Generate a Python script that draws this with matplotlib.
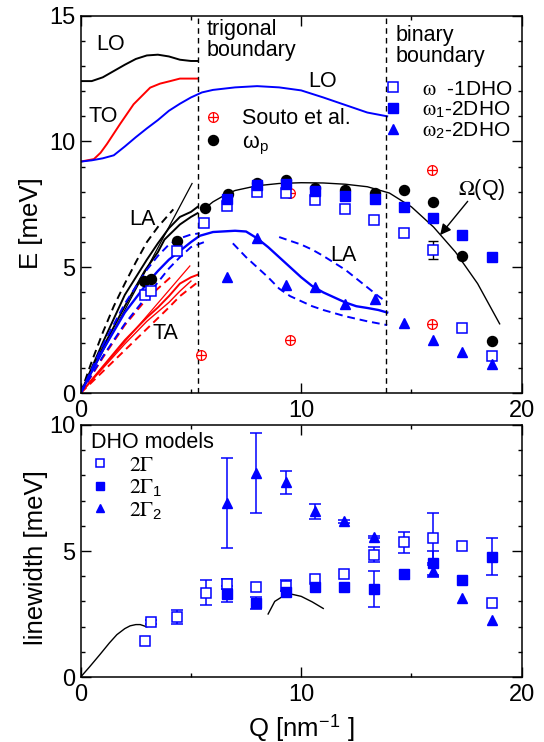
import numpy as np
import matplotlib
matplotlib.use("Agg")
import matplotlib.pyplot as plt
from matplotlib.ticker import MultipleLocator
from matplotlib.legend_handler import HandlerTuple

plt.rcParams['font.family'] = ['Liberation Sans', 'DejaVu Sans']
plt.rcParams['mathtext.fontset'] = 'stix'

BLUE = '#0000ff'
RED = '#ff0000'

# ---------------- top panel: dispersion ----------------
q_lo_k = [0, 0.5, 1, 1.5, 2, 2.5, 3, 3.5, 4, 4.5, 5, 5.3]
e_lo_k = [12.4, 12.4, 12.55, 12.8, 13.05, 13.28, 13.42, 13.45, 13.38, 13.25, 13.2, 13.2]

q_to_r = [0, 0.6, 0.9, 1.19, 1.79, 2.4, 3.15, 3.6, 4.06, 4.5, 5.0, 5.3]
e_to_r = [9.2, 9.3, 9.55, 9.9, 10.7, 11.48, 12.14, 12.3, 12.4, 12.5, 12.5, 12.5]

q_lo_b = [0, 0.5, 1, 1.5, 2, 2.5, 3, 3.5, 4, 4.5, 5, 5.5, 6, 7, 8, 9, 10, 11, 12, 13, 13.9]
e_lo_b = [9.2, 9.25, 9.33, 9.45, 9.8, 10.17, 10.52, 10.85, 11.22, 11.5, 11.75, 11.95, 12.05,
          12.15, 12.2, 12.15, 12.03, 11.75, 11.45, 11.15, 11.0]

# acoustic branches
q_la_kd = [0, 0.5, 1, 1.5, 2, 2.5, 3, 3.5, 4, 4.2]
e_la_kd = [0, 1.25, 2.4, 3.45, 4.35, 5.2, 6.0, 6.6, 7.1, 7.3]
q_la_kt = [0, 5.05]
e_la_kt = [0, 8.33]
q_la_k1 = [0, 1, 2, 3, 3.5, 4, 4.5, 5, 5.3]
e_la_k1 = [0, 2.0, 3.9, 5.3, 5.95, 6.55, 7.0, 7.2, 7.4]
q_la_k2 = [0, 1, 2, 2.9, 3.5, 3.8, 4.5, 5, 5.3]
e_la_k2 = [0, 1.8, 3.45, 4.85, 5.6, 6.1, 6.7, 7.0, 7.15]

q_la_b = [0, 1, 2, 3, 3.5, 4, 4.5, 5, 5.4, 6, 7, 7.5, 8, 8.5, 9, 9.5, 10, 10.5, 11, 12,
          12.5, 13, 13.5, 13.9]
e_la_b = [0, 1.7, 3.2, 4.35, 4.85, 5.3, 5.65, 6.0, 6.25, 6.4, 6.45, 6.42, 6.15, 5.8, 5.4,
          5.0, 4.6, 4.25, 4.0, 3.6, 3.45, 3.38, 3.3, 3.2]
q_la_bdu1 = [0, 1, 2, 3, 3.5, 4, 4.5, 5, 5.4]
e_la_bdu1 = [0, 1.9, 3.55, 4.9, 5.45, 5.9, 6.15, 6.3, 6.35]
q_la_bdl1 = [0, 1, 2, 3, 3.5, 4, 4.5, 5, 5.6]
e_la_bdl1 = [0, 1.45, 2.75, 3.85, 4.4, 4.95, 5.4, 5.8, 6.0]
q_la_bdu2 = [9.0, 10, 10.5, 11, 12, 13, 13.5, 13.9]
e_la_bdu2 = [6.2, 5.9, 5.7, 5.45, 4.9, 4.2, 3.85, 3.6]
q_la_bdl2 = [6.9, 7.5, 8, 8.5, 9, 9.5, 10, 10.5, 11, 12, 13, 13.9]
e_la_bdl2 = [5.95, 5.4, 5.0, 4.6, 4.15, 3.85, 3.65, 3.45, 3.3, 3.05, 2.85, 2.7]

q_ta_r1 = [0, 1, 2, 3, 3.5, 4, 4.5, 5, 5.3]
e_ta_r1 = [0, 1.05, 2.1, 3.0, 3.4, 3.85, 4.35, 4.6, 4.7]
q_ta_r2 = [0, 1, 2, 3, 4, 4.5, 5]
e_ta_r2 = [0, 0.98, 1.95, 2.85, 3.6, 4.05, 4.45]
q_ta_rt = [0, 4.95]
e_ta_rt = [0, 5.05]
q_ta_rdu = [0, 1, 2, 3, 3.5, 4.2]
e_ta_rdu = [0, 1.4, 2.7, 3.75, 4.15, 4.7]
q_ta_rdl = [0, 1, 2, 3, 4, 4.5, 5.3]
e_ta_rdl = [0, 0.85, 1.7, 2.55, 3.4, 3.85, 4.4]

q_omega = [5.5, 6, 6.6, 7, 8, 9, 10, 11, 12, 13, 14, 15, 16, 17, 18, 19]
e_omega = [7.25, 7.6, 7.9, 8.05, 8.24, 8.33, 8.36, 8.35, 8.3, 8.2, 7.95, 7.4, 6.6, 5.6, 4.35, 2.75]

q_bound = [5.3, 13.85]

# data points
q_souto = [5.45, 9.47, 9.5, 15.92, 15.92]
e_souto = [1.5, 2.09, 7.95, 8.85, 2.73]

q_p = [2.88, 3.21, 4.39, 5.63, 6.67, 7.99, 9.32, 10.63, 12.0, 13.33, 14.64, 15.97, 17.31, 18.65]
e_p = [4.47, 4.54, 6.03, 7.34, 7.91, 8.33, 8.48, 8.15, 8.07, 7.95, 8.07, 7.61, 5.44, 2.05]

q_1dho = [2.91, 3.18, 4.35, 5.6, 6.63, 7.99, 9.32, 10.63, 11.97, 13.31, 14.64, 15.97, 17.31, 18.65]
e_1dho = [3.88, 4.05, 5.66, 6.75, 7.45, 7.98, 7.95, 7.67, 7.32, 6.89, 6.35, 5.69, 2.6, 1.46]
e_1dho_err = [0, 0, 0, 0, 0, 0, 0, 0, 0, 0, 0, 0.37, 0, 0]

q_2dho = [6.63, 7.99, 9.32, 10.63, 12.0, 13.33, 14.64, 15.97, 17.31, 18.65]
e1_2dho = [7.73, 8.28, 8.31, 8.04, 7.84, 7.71, 7.38, 6.96, 6.3, 5.42]
e2_2dho = [4.6, 6.17, 4.29, 4.21, 3.52, 3.75, 2.78, 2.12, 1.63, 1.17]

# ---------------- bottom panel: linewidths ----------------
q_w = [2.92, 3.2, 4.36, 5.69, 6.63, 7.96, 9.3, 10.63, 11.95, 13.31, 14.64, 15.97, 17.31, 18.65]
g_1dho = [1.42, 2.19, 2.39, 3.35, 3.69, 3.59, 3.63, 3.89, 4.09, 4.85, 5.34, 5.51, 5.18, 2.95]
g_1dho_err = [0, 0.08, 0.28, 0.5, 0.2, 0, 0.2, 0, 0, 0.29, 0.42, 1.0, 0, 0]

q_w1 = [6.63, 7.96, 9.3, 10.63, 11.95, 13.31, 14.64, 15.97, 17.31, 18.65]
g1 = [3.29, 2.95, 3.39, 3.59, 3.59, 3.48, 4.09, 4.52, 3.86, 4.78]
g1_err = [0.32, 0.24, 0, 0, 0, 0.71, 0, 0.47, 0, 0.75]

q_w2 = [6.63, 7.96, 9.3, 10.63, 11.95, 13.31, 15.97, 17.31, 18.65]
g2 = [6.91, 8.1, 7.73, 6.57, 6.18, 5.55, 4.2, 3.12, 2.26]
g2_err = [1.78, 1.59, 0.46, 0.3, 0.05, 0.05, 0.25, 0, 0]

q_c1 = [0, 0.4, 0.88, 1.3, 1.64, 2.0, 2.24, 2.5, 2.7, 3.0]
g_c1 = [0, 0.4, 0.9, 1.35, 1.68, 1.92, 2.03, 2.08, 2.08, 1.99]
q_c2 = [8.5, 8.8, 9.2, 9.6, 10.0, 10.5, 11.0]
g_c2 = [2.5, 3.0, 3.22, 3.28, 3.2, 2.98, 2.72]

TXT = 15.5
TICK = 17
LAB = 18.5

fig = plt.figure(figsize=(5.44, 7.42), dpi=100)
W, H = 544.0, 742.0
ax1 = fig.add_axes([80.7 / W, 1 - 393.0 / H, 441.0 / W, 377.3 / H])
ax2 = fig.add_axes([80.7 / W, 1 - 677.0 / H, 441.0 / W, 252.0 / H])

for ax in (ax1, ax2):
    ax.set_xlim(0, 20)
    ax.xaxis.set_major_locator(MultipleLocator(10))
    ax.xaxis.set_minor_locator(MultipleLocator(5))
    ax.yaxis.set_major_locator(MultipleLocator(5))
    ax.yaxis.set_minor_locator(MultipleLocator(1))
    ax.tick_params(which='both', direction='in', top=True, right=True, labelsize=TICK,
                   width=1.0, pad=4)
    ax.tick_params(which='major', length=7)
    ax.tick_params(which='minor', length=3.2)
    for s in ax.spines.values():
        s.set_linewidth(1.1)

ax1.set_ylim(0, 15)
ax2.set_ylim(0, 10)

lw = 1.4
DASH = (0, (4, 2.5))
# optic
ax1.plot(q_lo_k, e_lo_k, color='k', lw=lw)
ax1.plot(q_to_r, e_to_r, color=RED, lw=lw)
ax1.plot(q_lo_b, e_lo_b, color=BLUE, lw=lw)
# acoustic
ax1.plot(q_la_kd, e_la_kd, color='k', lw=lw, ls=DASH)
ax1.plot(q_la_kt, e_la_kt, color='k', lw=0.9)
ax1.plot(q_la_k1, e_la_k1, color='k', lw=lw)
ax1.plot(q_la_k2, e_la_k2, color='k', lw=lw)
ax1.plot(q_ta_r1, e_ta_r1, color=RED, lw=lw)
ax1.plot(q_ta_r2, e_ta_r2, color=RED, lw=1.0)
ax1.plot(q_ta_rt, e_ta_rt, color=RED, lw=0.9)
ax1.plot(q_ta_rdu, e_ta_rdu, color=RED, lw=lw, ls=DASH)
ax1.plot(q_ta_rdl, e_ta_rdl, color=RED, lw=lw, ls=DASH)
ax1.plot(q_la_b, e_la_b, color=BLUE, lw=1.7)
for qq, ee in ((q_la_bdu1, e_la_bdu1), (q_la_bdl1, e_la_bdl1),
               (q_la_bdu2, e_la_bdu2), (q_la_bdl2, e_la_bdl2)):
    ax1.plot(qq, ee, color=BLUE, lw=lw, ls=DASH)
ax1.plot(q_omega, e_omega, color='k', lw=1.0)
for qb in q_bound:
    ax1.axvline(qb, color='k', lw=1.0, ls=(0, (4, 3)))

# points
ms = 7.2
h_s1, = ax1.plot(q_souto, e_souto, 'o', mfc='white', mec=RED, mew=0.9, ms=7, ls='none', zorder=3)
h_s2, = ax1.plot(q_souto, e_souto, '+', color=RED, mew=0.9, ms=7, ls='none', zorder=3)
h_p, = ax1.plot(q_p, e_p, 'o', color='k', ms=ms, ls='none', zorder=4)
h_o, = ax1.plot(q_1dho, e_1dho, 's', mfc='white', mec=BLUE, mew=1.1, ms=ms, ls='none', zorder=5)
e_err = np.array(e_1dho_err)
m = e_err > 0
ax1.errorbar(np.array(q_1dho)[m], np.array(e_1dho)[m], yerr=e_err[m], fmt='none',
             ecolor='k', elinewidth=1.0, capsize=3.5, capthick=1.0, zorder=4)
h_f, = ax1.plot(q_2dho, e1_2dho, 's', color=BLUE, ms=ms, ls='none', zorder=5)
h_t, = ax1.plot(q_2dho, e2_2dho, '^', color=BLUE, ms=ms + 0.6, ls='none', zorder=5)

# texts
ax1.text(1.35, 13.85, 'LO', fontsize=TXT, ha='center', va='center')
ax1.text(1.0, 10.98, 'TO', fontsize=TXT, ha='center', va='center')
ax1.text(10.96, 12.4, 'LO', fontsize=TXT, ha='center', va='center')
ax1.text(2.8, 6.9, 'LA', fontsize=TXT, ha='center', va='center')
ax1.text(3.85, 2.37, 'TA', fontsize=TXT, ha='center', va='center')
ax1.text(11.9, 5.46, 'LA', fontsize=TXT, ha='center', va='center')
ax1.text(5.72, 14.85, 'trigonal\nboundary', fontsize=TXT, ha='left', va='top', linespacing=1.0)
ax1.text(14.3, 14.65, 'binary\nboundary', fontsize=TXT, ha='left', va='top', linespacing=1.0)
ax1.text(18.2, 8.1, r'$\Omega$(Q)', fontsize=TXT, ha='center', va='center')
ax1.annotate('', xy=(16.3, 6.28), xytext=(17.55, 7.62),
             arrowprops=dict(arrowstyle='-|>', color='k', lw=1.0, mutation_scale=16,
                             shrinkA=0, shrinkB=0))

ax1.set_ylabel('E [meV]', fontsize=LAB)
ax1.yaxis.set_label_coords(-0.085, 0.45)
ax1.tick_params(axis='x', pad=5)

# bottom panel
ax2.plot(q_c1, g_c1, color='k', lw=1.0)
ax2.plot(q_c2, g_c2, color='k', lw=1.0)


def err_subset(ax, q, v, err):
    q = np.array(q); v = np.array(v); err = np.array(err)
    m = err > 0
    ax.errorbar(q[m], v[m], yerr=err[m], fmt='none', ecolor=BLUE, elinewidth=1.1,
                capsize=4, capthick=1.1, zorder=3)


err_subset(ax2, q_w2, g2, g2_err)
err_subset(ax2, q_w1, g1, g1_err)
err_subset(ax2, q_w, g_1dho, g_1dho_err)
hb_o, = ax2.plot(q_w, g_1dho, 's', mfc='white', mec=BLUE, mew=1.1, ms=ms, ls='none', zorder=5)
hb_f, = ax2.plot(q_w1, g1, 's', color=BLUE, ms=ms, ls='none', zorder=5)
hb_t, = ax2.plot(q_w2, g2, '^', color=BLUE, ms=ms + 0.6, ls='none', zorder=5)

ax2.set_ylabel('linewidth [meV]', fontsize=LAB)
ax2.yaxis.set_label_coords(-0.075, 0.475)
ax2.set_xlabel(r'Q [nm$^\mathregular{-1}$ ]', fontsize=LAB, labelpad=4)
ax2.tick_params(axis='x', pad=5)


# ---------- legends, positioned so their keys sit where the reference has them ----------
def key_positions(leg):
    fig.canvas.draw()
    pts = []
    for h in leg.legend_handles:
        xy = np.asarray(h.get_xydata())
        pts.append(h.get_transform().transform(xy[len(xy) // 2]))
    return np.array(pts)


def placed_legend(ax, handles, labels, key_x_px, key_y_px, fs, **kw):
    fs_px = fs * fig.dpi / 72.0
    leg = ax.legend(handles, labels, loc='upper left', bbox_to_anchor=(0.0, 1.0),
                    frameon=False, fontsize=fs, borderpad=0, borderaxespad=0,
                    labelspacing=0.0, numpoints=1, **kw)
    p0 = key_positions(leg)
    gaps0 = -np.diff(p0[:, 1])
    target_gaps = np.diff(key_y_px)
    ls = float(np.mean(target_gaps - gaps0)) / fs_px
    leg = ax.legend(handles, labels, loc='upper left', bbox_to_anchor=(0.0, 1.0),
                    frameon=False, fontsize=fs, borderpad=0, borderaxespad=0,
                    labelspacing=ls, numpoints=1, **kw)
    p1 = key_positions(leg)
    bb = ax.get_window_extent()
    dx = key_x_px - p1[0, 0]
    dy = (H - key_y_px[0]) - p1[0, 1]
    leg = ax.legend(handles, labels, loc='upper left',
                    bbox_to_anchor=(dx / bb.width, 1.0 + dy / bb.height),
                    frameon=False, fontsize=fs, borderpad=0, borderaxespad=0,
                    labelspacing=ls, numpoints=1, **kw)
    return leg


leg1 = placed_legend(ax1, [(h_s1, h_s2), h_p], ['Souto et al.', r'ω$_\mathregular{p}$'],
                     212.8, [116.7, 140.0], TXT,
                     handler_map={tuple: HandlerTuple(ndivide=1, pad=0)},
                     handlelength=0.8, handletextpad=0.95)
ax1.add_artist(leg1)
leg2 = placed_legend(ax1, [h_o, h_f, h_t],
                     [r'$\mathrm{\omega}$  -1DHO', r'$\mathrm{\omega}_\mathregular{1}$-2DHO',
                      r'$\mathrm{\omega}_\mathregular{2}$-2DHO'],
                     392.7, [87.3, 107.8, 129.3], 15.0,
                     handlelength=0.8, handletextpad=1.0)
leg3 = placed_legend(ax2, [hb_o, hb_f, hb_t],
                     [r'$2\Gamma$', r'$2\Gamma_\mathregular{1}$', r'$2\Gamma_\mathregular{2}$'],
                     100.0, [463.3, 486.7, 508.3], TXT,
                     title='DHO models', title_fontsize=TXT, alignment='left',
                     handlelength=0.8, handletextpad=0.95, markerscale=0.8)

fig.savefig('out.png', dpi=100)
